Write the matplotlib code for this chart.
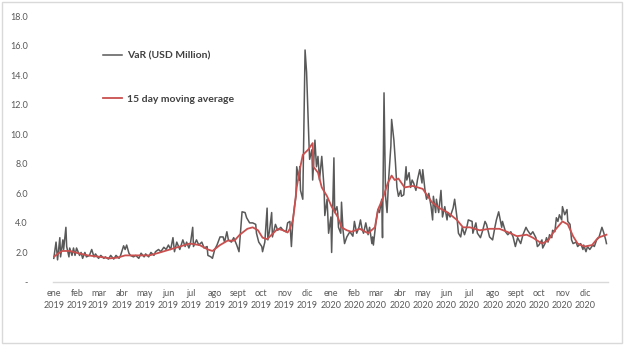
import numpy as np
import matplotlib
matplotlib.use("Agg")
import matplotlib.pyplot as plt
from matplotlib.patches import Rectangle

# ---- data: days since 2019-01-01 and values (USD million) ----
var_days = [0, 3, 5, 8, 9, 12, 13, 16, 17, 20, 21, 24, 26, 28, 30, 34, 36, 38, 41, 43,
            47, 50, 53, 55, 59, 62, 66, 68, 72, 75, 79, 82, 86, 88, 92, 94, 96, 99, 101, 105,
            108, 112, 115, 119, 121, 125, 128, 132, 134, 138, 141, 145, 148, 151, 154, 157, 159, 162, 166, 170,
            173, 175, 178, 180, 183, 184, 188, 191, 195, 198, 202, 203, 207, 209, 212, 215, 219, 223, 225, 228,
            230, 234, 237, 241, 244, 248, 252, 254, 258, 262, 266, 267, 270, 274, 275, 278, 281, 282, 284, 287,
            288, 292, 295, 299, 302, 306, 308, 311, 313, 315, 317, 319, 320, 323, 324, 325, 328, 329, 331, 333,
            336, 337, 340, 341, 344, 346, 348, 350, 353, 356, 357, 360, 362, 365, 366, 369, 370, 373, 374, 375,
            378, 379, 381, 383, 386, 390, 394, 396, 399, 402, 404, 406, 408, 411, 414, 416, 419, 420, 421, 424,
            427, 429, 432, 433, 435, 437, 439, 441, 444, 445, 448, 450, 452, 454, 457, 458, 461, 464, 465, 468,
            470, 472, 474, 477, 479, 482, 485, 486, 489, 491, 494, 497, 499, 500, 503, 504, 507, 510, 512, 515,
            518, 519, 522, 526, 528, 531, 533, 536, 538, 541, 544, 546, 551, 552, 556, 558, 562, 565, 568, 570,
            574, 578, 581, 583, 586, 590, 591, 595, 598, 602, 605, 608, 611, 615, 618, 622, 624, 628, 631, 635,
            637, 639, 643, 644, 647, 649, 651, 653, 656, 657, 660, 662, 664, 666, 669, 670, 673, 676, 677, 680,
            682, 684, 688, 690, 694, 697, 698, 701, 703, 706, 710, 712, 715, 718, 722, 724, 727, 728]
var_values = [1.6, 2.7, 1.5, 3.0, 1.7, 2.85, 2.2, 3.7, 2.4, 1.7, 2.3, 1.8, 2.3, 1.8, 2.3, 1.8, 2.0, 1.6, 2.0, 1.7,
              1.8, 2.2, 1.7, 1.9, 1.6, 1.8, 1.6, 1.7, 1.55, 1.8, 1.55, 1.8, 1.6, 1.8, 2.45, 2.2, 2.5, 1.95, 1.8, 1.7,
              1.8, 1.6, 1.95, 1.7, 1.9, 1.7, 2.0, 1.8, 2.05, 2.2, 2.05, 2.35, 2.2, 2.5, 2.2, 3.0, 2.05, 2.7, 2.2, 2.85,
              2.4, 2.7, 2.3, 2.6, 3.7, 2.4, 2.85, 2.5, 2.7, 2.3, 2.4, 1.8, 1.7, 1.6, 2.2, 2.5, 3.05, 3.05, 2.7, 3.4,
              2.85, 2.7, 3.0, 2.5, 2.05, 4.75, 4.7, 4.35, 4.0, 4.0, 3.9, 3.3, 2.7, 2.4, 2.05, 2.7, 5.0, 2.85, 3.4, 4.7,
              3.05, 3.9, 3.5, 3.7, 3.5, 3.4, 4.0, 4.1, 2.4, 4.2, 5.1, 5.8, 7.8, 6.9, 7.8, 6.2, 5.6, 8.95, 15.7, 14.2,
              9.6, 8.3, 8.95, 6.9, 9.6, 7.8, 8.5, 6.9, 8.5, 6.4, 4.5, 5.6, 3.3, 4.4, 2.0, 8.4, 4.7, 5.1, 4.7, 3.7,
              3.3, 5.4, 3.5, 2.6, 3.05, 3.4, 3.1, 4.1, 3.3, 3.7, 4.2, 3.6, 3.3, 4.0, 3.2, 3.7, 2.6, 3.05, 2.5, 3.9,
              4.9, 4.7, 5.6, 3.0, 12.8, 5.8, 4.7, 6.9, 9.2, 11.0, 9.6, 8.1, 6.4, 5.8, 6.2, 5.8, 5.9, 7.8, 6.9, 7.4,
              6.4, 6.9, 6.7, 6.2, 6.9, 7.6, 6.7, 7.6, 6.2, 5.6, 6.0, 5.1, 4.2, 5.8, 4.7, 5.6, 4.7, 6.2, 4.4, 5.1,
              4.2, 4.7, 4.4, 5.0, 5.6, 4.4, 3.3, 3.05, 3.7, 3.2, 3.7, 4.2, 4.1, 3.3, 4.0, 3.3, 3.0, 3.5, 4.1, 3.9,
              3.05, 2.85, 3.7, 4.2, 4.75, 3.7, 4.1, 3.4, 3.2, 3.4, 3.05, 2.4, 3.0, 2.6, 3.2, 3.7, 3.5, 3.2, 3.4, 3.0,
              2.4, 2.5, 2.85, 2.3, 2.6, 3.0, 2.7, 3.2, 3.0, 3.5, 3.4, 4.35, 4.1, 4.55, 4.2, 5.1, 4.55, 4.9, 4.1, 3.9,
              2.85, 2.6, 2.7, 2.4, 2.6, 2.2, 2.5, 2.05, 2.4, 2.2, 2.5, 2.4, 2.85, 3.0, 3.7, 3.4, 2.85, 2.6]

ma_days = [0, 5, 11, 21, 32, 45, 61, 74, 84, 94, 113, 126, 140, 153, 166, 179, 192, 203, 209, 219,
           229, 238, 245, 255, 262, 269, 275, 281, 287, 295, 302, 308, 311, 315, 317, 320, 324, 328, 335, 341,
           342, 348, 353, 360, 366, 374, 379, 386, 392, 403, 414, 423, 427, 433, 440, 445, 449, 454, 462, 473,
           486, 498, 508, 519, 531, 539, 548, 561, 574, 587, 597, 610, 623, 631, 643, 651, 660, 670, 677, 684,
           690, 699, 709, 717, 728]
ma_values = [1.7, 1.9, 2.1, 2.1, 1.95, 1.8, 1.7, 1.6, 1.65, 1.8, 1.8, 1.8, 2.0, 2.2, 2.4, 2.6, 2.5, 2.2, 2.1, 2.5,
             2.8, 2.8, 3.2, 3.6, 3.7, 3.5, 3.0, 2.9, 3.2, 3.6, 3.5, 3.35, 3.6, 4.2, 5.0, 6.4, 7.6, 8.6, 8.95, 9.4,
             7.8, 7.4, 6.4, 5.8, 5.1, 4.4, 3.7, 3.5, 3.4, 3.6, 3.3, 3.7, 4.9, 5.6, 6.7, 7.2, 6.9, 7.0, 6.4, 6.5,
             6.3, 5.4, 5.0, 4.7, 4.2, 3.7, 3.7, 3.5, 3.6, 3.6, 3.4, 3.1, 3.2, 3.0, 2.6, 2.8, 3.5, 4.1, 3.9, 3.1,
             2.6, 2.4, 2.5, 3.0, 3.2]

month_names = ["ene", "feb", "mar", "abr", "may", "jun", "jul", "ago", "sept", "oct", "nov", "dic"]
years = [2019, 2020]
y_ticks = [0, 2, 4, 6, 8, 10, 12, 14, 16, 18]
series_labels = ["VaR (USD Million)", "15 day moving average"]

base = np.datetime64("2019-01-01")
var_dates = base + np.array(var_days).astype("timedelta64[D]")
ma_dates = base + np.array(ma_days).astype("timedelta64[D]")

plt.rcParams["font.family"] = ["Lato", "DejaVu Sans"]

fig = plt.figure(figsize=(6.25, 3.47), dpi=100)
ax = fig.add_axes([53 / 625, 1 - 282 / 347, 555 / 625, 266 / 347])

ax.plot(var_dates, var_values, color="#595959", lw=1.1, label=series_labels[0], zorder=2)
ax.plot(ma_dates, ma_values, color="#C9504F", lw=1.3, label=series_labels[1], zorder=3)

ax.set_ylim(0, 18)
ax.set_yticks(y_ticks)
ax.set_yticklabels(["-" if v == 0 else f"{v:.1f}" for v in y_ticks])
ax.set_xlim(base - np.timedelta64(1, "D"), base + np.timedelta64(730, "D"))

tick_dates = []
tick_labels = []
for y in years:
    for i, m in enumerate(month_names):
        tick_dates.append(np.datetime64(f"{y}-{i + 1:02d}-01"))
        tick_labels.append(f"{m}\n{y}")
ax.set_xticks(tick_dates)
ax.set_xticklabels(tick_labels, linespacing=1.45)

ax.tick_params(axis="both", length=0, labelsize=6.5, colors="#595959")
ax.tick_params(axis="y", pad=18)
ax.tick_params(axis="x", pad=5)
for lab in ax.get_yticklabels():
    lab.set_horizontalalignment("right")

for s in ["top", "right", "left"]:
    ax.spines[s].set_visible(False)
ax.spines["bottom"].set_color("#D9D9D9")
ax.spines["bottom"].set_linewidth(1.0)

leg = ax.legend(loc="upper left", bbox_to_anchor=(103 / 625, 1 - 51 / 347),
                bbox_transform=fig.transFigure, frameon=False, borderpad=0, borderaxespad=0,
                handlelength=1.8, handletextpad=0.5, labelspacing=3.3,
                prop={"size": 7.5, "weight": "bold"})
for t in leg.get_texts():
    t.set_color("#404040")

fig.patches.append(Rectangle((2 / 625, 1 - 343 / 347), 620 / 625, 341 / 347,
                             transform=fig.transFigure, fill=False, edgecolor="#D9D9D9", lw=1.0))

fig.savefig("out.png", dpi=100)
